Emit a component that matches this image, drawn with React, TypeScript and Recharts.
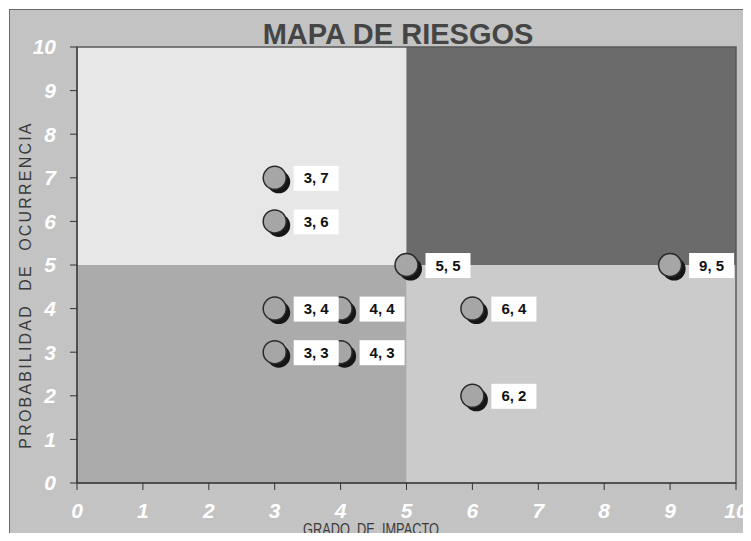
import React from 'react';
import { ScatterChart, Scatter, XAxis, YAxis, ReferenceArea } from 'recharts';

// riesgos: grado de impacto (x) y probabilidad de ocurrencia (y)
const impacto = [3, 3, 5, 9, 3, 4, 6, 3, 4, 6];
const probabilidad = [7, 6, 5, 5, 4, 4, 4, 3, 3, 2];
const ticks = [0, 1, 2, 3, 4, 5, 6, 7, 8, 9, 10];

const riesgos = impacto.map((x, i) => ({ x, y: probabilidad[i], etiqueta: `${x}, ${probabilidad[i]}` }));

const Punto = (props: any) => {
    const { cx, cy } = props;
    return (
        <g>
            <circle cx={cx + 4} cy={cy + 4} r={11.5} fill="#161616" />
            <circle cx={cx} cy={cy} r={11.5} fill="#a6a6a6" stroke="#2a2a2a" strokeWidth={1.5} />
        </g>
    );
};

const Etiqueta = (props: any) => {
    const { cx, cy, payload } = props;
    return (
        <g>
            <rect x={cx + 19} y={cy - 12} width={45} height={25} fill="#ffffff" />
            <text x={cx + 41.5} y={cy + 5.5} textAnchor="middle" fontFamily="Arial, Liberation Sans" fontWeight="bold" fontSize={15} fill="#111">
                {payload.etiqueta}
            </text>
        </g>
    );
};

const tickStyle = { fill: '#ffffff', fontSize: 21, fontStyle: 'italic', fontWeight: 'bold', fontFamily: 'Arial, Liberation Sans' };

const App: React.FC = () => {
    return (
        <div style={{ position: 'relative', width: 751, height: 541, margin: -8, overflow: 'hidden', background: '#fff' }}>
            <div style={{ position: 'absolute', left: 9, top: 9, width: 760, height: 560, background: '#c3c3c3', border: '1px solid #6a6a6a' }} />
            <div style={{ position: 'absolute', left: 0, top: 0 }}>
                <ScatterChart width={751} height={541} margin={{ top: 47, right: 15, left: 17, bottom: 18 }}>
                    <ReferenceArea x1={0} x2={5} y1={5} y2={10} fill="#e7e7e7" fillOpacity={1} stroke="none" />
                    <ReferenceArea x1={0} x2={5} y1={0} y2={5} fill="#ababab" fillOpacity={1} stroke="none" />
                    <ReferenceArea x1={5} x2={10} y1={0} y2={5} fill="#cbcbcb" fillOpacity={1} stroke="none" />
                    <ReferenceArea x1={5} x2={10} y1={5} y2={10} fill="#6b6b6b" fillOpacity={1} stroke="none" />
                    <ReferenceArea x1={0} x2={10} y1={0} y2={10} fill="none" stroke="#5a5a5a" strokeWidth={1.5} />
                    <XAxis
                        type="number"
                        dataKey="x"
                        domain={[0, 10]}
                        ticks={ticks}
                        height={40}
                        tickSize={7}
                        tickMargin={13}
                        stroke="#333"
                        tick={tickStyle}
                    />
                    <YAxis
                        type="number"
                        dataKey="y"
                        domain={[0, 10]}
                        ticks={ticks}
                        width={60}
                        tickSize={7}
                        tickMargin={14}
                        stroke="#333"
                        tick={tickStyle}
                    />
                    <Scatter data={riesgos} shape={<Punto />} isAnimationActive={false} />
                    <Scatter data={riesgos} shape={<Etiqueta />} isAnimationActive={false} />
                </ScatterChart>
            </div>
            <div style={{ position: 'absolute', left: 0, width: 796, top: 18, lineHeight: '32px', textAlign: 'center', fontFamily: 'Arial, Liberation Sans', fontWeight: 'bold', fontSize: 29, color: '#454545' }}>
                MAPA DE RIESGOS
            </div>
            <div style={{ position: 'absolute', left: 0, width: 742, top: 521, lineHeight: '18px', textAlign: 'center', fontFamily: 'Arial, Liberation Sans', fontSize: 16, color: '#3a3a3a', whiteSpace: 'pre', transform: 'scaleX(0.8)' }}>
                GRADO  DE  IMPACTO
            </div>
            <div style={{ position: 'absolute', left: 26, top: 285, width: 0, height: 0 }}>
                <div style={{ position: 'absolute', left: -200, top: -9, width: 400, lineHeight: '18px', textAlign: 'center', transform: 'rotate(-90deg)', fontFamily: 'Arial, Liberation Sans', fontSize: 16, letterSpacing: 2.2, color: '#3a3a3a', whiteSpace: 'pre' }}>
                    PROBABILIDAD  DE  OCURRENCIA
                </div>
            </div>
        </div>
    );
};

export default App;
